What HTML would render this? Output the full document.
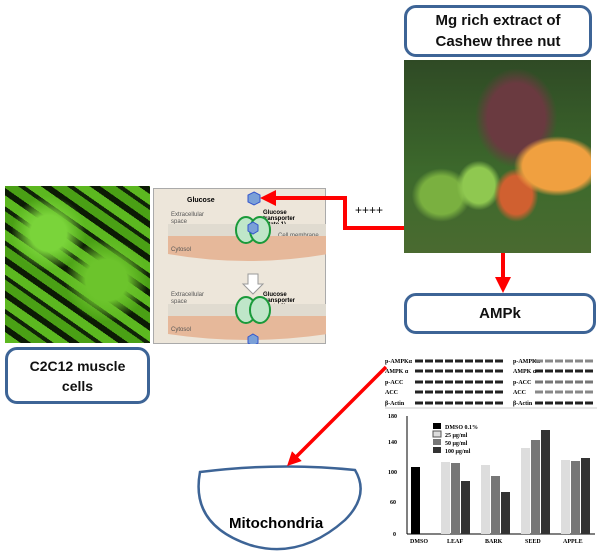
<!DOCTYPE html>
<html><head><meta charset="utf-8"><style>
body{margin:0;width:601px;height:557px;background:#fff;position:relative;overflow:hidden;font-family:"Liberation Sans",sans-serif}
.box{position:absolute;border:3px solid #3d6496;border-radius:12px;background:#fff;box-sizing:border-box;display:flex;align-items:center;justify-content:center;text-align:center;font-weight:bold;color:#111}
</style></head><body>
<!-- cells photo -->
<div style="position:absolute;left:5px;top:186px;width:145px;height:157px;background:radial-gradient(circle at 30% 30%,#7ad43a 0 12%,transparent 25%),radial-gradient(circle at 70% 60%,#6cc42c 0 15%,transparent 30%),repeating-linear-gradient(35deg,#5cb820 0 9px,#0c1a05 9px 15px,#4aa015 15px 24px,#102208 24px 28px);"></div>
<div class="box" style="left:5px;top:347px;width:145px;height:57px;font-size:14px;line-height:20px">C2C12 muscle<br>cells</div>
<!-- glucose diagram -->
<svg style="position:absolute;left:153px;top:188px" width="173" height="156">
<rect x="0.5" y="0.5" width="172" height="155" fill="#ede6da" stroke="#aaa"/>
<text x="34" y="14" font-size="7" font-weight="bold" font-family="Liberation Sans">Glucose</text>
<polygon points="101,4 107,7 107,14 101,17 95,14 95,7" fill="#7aa0d8" stroke="#35c"/>
<text x="18" y="28" font-size="6" fill="#555">Extracellular</text><text x="18" y="35" font-size="6" fill="#555">space</text>
<text x="110" y="26" font-size="6" font-weight="bold">Glucose</text><text x="110" y="32" font-size="6" font-weight="bold">transporter</text><text x="110" y="38" font-size="6" font-weight="bold">(state 1)</text>
<rect x="15" y="36" width="160" height="12" fill="#e0dbd0"/>
<text x="125" y="49" font-size="6" fill="#555">Cell membrane</text>
<path d="M15 48 H175 V66 Q95 80 15 66Z" fill="#e6b89a"/>
<text x="18" y="63" font-size="6" fill="#555">Cytosol</text>
<ellipse cx="93" cy="42" rx="10" ry="13" fill="#bfe6c9" stroke="#1a9a3a" stroke-width="2"/>
<ellipse cx="107" cy="42" rx="10" ry="13" fill="#bfe6c9" stroke="#1a9a3a" stroke-width="2"/>
<polygon points="100,34 105,37 105,43 100,46 95,43 95,37" fill="#7aa0d8" stroke="#35c"/>
<path d="M95 86 h10 v10 h5 l-10 10 l-10 -10 h5z" fill="#fff" stroke="#999"/>
<text x="18" y="108" font-size="6" fill="#555">Extracellular</text><text x="18" y="115" font-size="6" fill="#555">space</text>
<text x="110" y="108" font-size="6" font-weight="bold">Glucose</text><text x="110" y="114" font-size="6" font-weight="bold">transporter</text><text x="110" y="120" font-size="6" font-weight="bold">(state 2)</text>
<rect x="15" y="116" width="160" height="12" fill="#e0dbd0"/>
<path d="M15 128 H175 V146 Q95 158 15 146Z" fill="#e6b89a"/>
<text x="18" y="143" font-size="6" fill="#555">Cytosol</text>
<ellipse cx="93" cy="122" rx="10" ry="13" fill="#bfe6c9" stroke="#1a9a3a" stroke-width="2"/>
<ellipse cx="107" cy="122" rx="10" ry="13" fill="#bfe6c9" stroke="#1a9a3a" stroke-width="2"/>
<polygon points="100,146 105,149 105,155 100,158 95,155 95,149" fill="#7aa0d8" stroke="#35c"/>
</svg>
<!-- cashew -->
<div class="box" style="left:404px;top:5px;width:188px;height:52px;font-size:15px;line-height:21px">Mg rich extract of<br>Cashew three nut</div>
<div style="position:absolute;left:404px;top:60px;width:187px;height:193px;background:radial-gradient(ellipse at 82% 55%,#f0a040 0 16%,transparent 20%),radial-gradient(ellipse at 60% 70%,#d06030 0 10%,transparent 14%),radial-gradient(ellipse at 40% 65%,#8fc850 0 10%,transparent 14%),radial-gradient(ellipse at 20% 70%,#7ab040 0 10%,transparent 14%),radial-gradient(ellipse at 60% 30%,#6a3a40 0 18%,transparent 26%),linear-gradient(#2f4a25,#3d6a2c 60%,#4a6a30)"></div>
<div style="position:absolute;left:355px;top:203px;font-size:12px">++++</div>
<div class="box" style="left:404px;top:293px;width:192px;height:41px;font-size:15px">AMPk</div>
<!-- blots -->
<svg style="position:absolute;left:385px;top:334px" width="212" height="212" font-family="Liberation Serif">
<g font-size="6" font-weight="bold">
<text x="0" y="29">p-AMPKα</text><text x="0" y="39">AMPK α</text><text x="0" y="50">p-ACC</text><text x="0" y="60">ACC</text><text x="0" y="71">β-Actin</text>
<text x="128" y="29">p-AMPKα</text><text x="128" y="39">AMPK α</text><text x="128" y="50">p-ACC</text><text x="128" y="60">ACC</text><text x="128" y="71">β-Actin</text>
</g>
<g stroke="#222" stroke-width="3" stroke-dasharray="8 2">
<line x1="30" y1="27" x2="118" y2="27"/><line x1="30" y1="37" x2="118" y2="37"/><line x1="30" y1="48" x2="118" y2="48"/><line x1="30" y1="58" x2="118" y2="58"/><line x1="30" y1="69" x2="118" y2="69"/>
<line x1="150" y1="27" x2="210" y2="27" stroke="#888"/><line x1="150" y1="37" x2="210" y2="37"/><line x1="150" y1="48" x2="210" y2="48" stroke="#777"/><line x1="150" y1="58" x2="210" y2="58" stroke="#888"/><line x1="150" y1="69" x2="210" y2="69"/>
</g>
<line x1="0" y1="74" x2="212" y2="74" stroke="#ccc"/>
<line x1="22" y1="82" x2="22" y2="200" stroke="#000"/><line x1="22" y1="200" x2="210" y2="200" stroke="#000"/>
<g font-size="6" font-weight="bold"><text x="8" y="202">0</text><text x="5" y="170">60</text><text x="3" y="140">100</text><text x="3" y="110">140</text><text x="3" y="84">180</text>
<text x="25" y="209">DMSO</text><text x="62" y="209">LEAF</text><text x="100" y="209">BARK</text><text x="140" y="209">SEED</text><text x="178" y="209">APPLE</text>
<text x="60" y="95">DMSO 0.1%</text><text x="60" y="103">25 μg/ml</text><text x="60" y="111">50 μg/ml</text><text x="60" y="119">100 μg/ml</text></g>
<rect x="48" y="89" width="8" height="6" fill="#000"/><rect x="48" y="97" width="8" height="6" fill="#ddd" stroke="#555"/><rect x="48" y="105" width="8" height="6" fill="#777"/><rect x="48" y="113" width="8" height="6" fill="#333"/>
<rect x="26" y="133" width="9" height="67" fill="#000"/>
<rect x="56" y="128" width="9" height="72" fill="#ddd"/><rect x="66" y="129" width="9" height="71" fill="#777"/><rect x="76" y="147" width="9" height="53" fill="#333"/>
<rect x="96" y="131" width="9" height="69" fill="#ddd"/><rect x="106" y="142" width="9" height="58" fill="#777"/><rect x="116" y="158" width="9" height="42" fill="#333"/>
<rect x="136" y="114" width="9" height="86" fill="#ddd"/><rect x="146" y="106" width="9" height="94" fill="#777"/><rect x="156" y="96" width="9" height="104" fill="#333"/>
<rect x="176" y="126" width="9" height="74" fill="#ddd"/><rect x="186" y="127" width="9" height="73" fill="#777"/><rect x="196" y="124" width="9" height="76" fill="#333"/>
</svg>
<!-- mitochondria -->
<svg style="position:absolute;left:0;top:0" width="601" height="557">
<defs><marker id="a" markerWidth="4" markerHeight="4" refX="2" refY="2" orient="auto"><path d="M0,0 L4,2 L0,4Z" fill="#f00"/></marker></defs>
<path d="M200 472 Q280 462 355 470 Q370 495 345 520 Q300 560 250 545 Q190 525 200 472Z" fill="#fff" stroke="#3d6496" stroke-width="2.5"/>
<text x="229" y="528" font-size="15" font-weight="bold" font-family="Liberation Sans">Mitochondria</text>
<polyline points="404,228 345,228 345,198 268,198" fill="none" stroke="#f00" stroke-width="4" marker-end="url(#a)"/>
<line x1="503" y1="253" x2="503" y2="285" stroke="#f00" stroke-width="4" marker-end="url(#a)"/>
<line x1="386" y1="367" x2="292" y2="461" stroke="#f00" stroke-width="3.5" marker-end="url(#a)"/>
</svg>
</body></html>
